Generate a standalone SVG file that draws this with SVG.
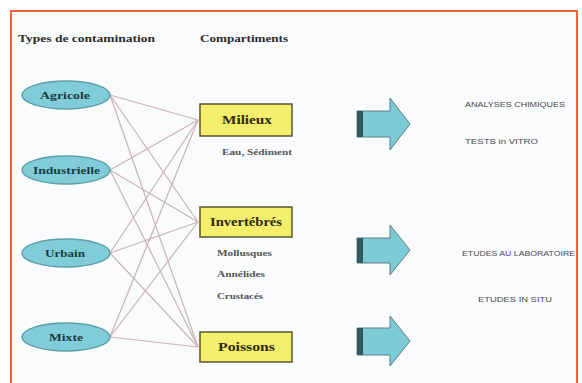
<svg xmlns="http://www.w3.org/2000/svg" width="582" height="383" viewBox="0 0 582 383">
<defs>
<style>
.hdr{font-family:"Liberation Serif",serif;font-weight:bold;font-size:11px;fill:#2a2a2a}
.ell{fill:#80cdd9;stroke:#5d9fa8;stroke-width:1.5}
.elt{font-family:"Liberation Serif",serif;font-weight:bold;font-size:10.5px;fill:#1d3b3e}
.box{fill:#f3ee6c;stroke:#5a5630;stroke-width:1.5}
.bxt{font-family:"Liberation Serif",serif;font-weight:bold;font-size:11.5px;fill:#2b2a12}
.sub{font-family:"Liberation Serif",serif;font-weight:bold;font-size:8.5px;fill:#555}
.rt{font-family:"Liberation Sans",sans-serif;font-size:6.5px;fill:#4a4a4a}
.ln{stroke:#c9b3b3;stroke-width:1.2;fill:none}
.arr{fill:#7dcbd6;stroke:#5a7f84;stroke-width:1}
.strip{fill:#2f5a5e}
</style>
</defs>
<rect x="0" y="0" width="582" height="383" fill="#ffffff"/>
<rect x="11" y="11" width="566" height="380" fill="#f9fbfd" stroke="#f0643a" stroke-width="2"/>
<text class="hdr" x="18" y="42" textLength="137" lengthAdjust="spacingAndGlyphs">Types de contamination</text>
<text class="hdr" x="200" y="42" textLength="88" lengthAdjust="spacingAndGlyphs">Compartiments</text>
<g id="connectors">
<line class="ln" x1="110" y1="95" x2="198" y2="120"/>
<line class="ln" x1="110" y1="95" x2="198" y2="222"/>
<line class="ln" x1="110" y1="95" x2="198" y2="347"/>
<line class="ln" x1="110" y1="170" x2="198" y2="120"/>
<line class="ln" x1="110" y1="170" x2="198" y2="222"/>
<line class="ln" x1="110" y1="170" x2="198" y2="347"/>
<line class="ln" x1="110" y1="253" x2="198" y2="120"/>
<line class="ln" x1="110" y1="253" x2="198" y2="222"/>
<line class="ln" x1="110" y1="253" x2="198" y2="347"/>
<line class="ln" x1="110" y1="337" x2="198" y2="120"/>
<line class="ln" x1="110" y1="337" x2="198" y2="222"/>
<line class="ln" x1="110" y1="337" x2="198" y2="347"/>
</g>
<g id="agricole"><ellipse class="ell" cx="66" cy="95" rx="44" ry="14"/><text class="elt" x="40" y="99" textLength="50" lengthAdjust="spacingAndGlyphs">Agricole</text></g>
<g id="industrielle"><ellipse class="ell" cx="66" cy="170" rx="44" ry="14"/><text class="elt" x="33" y="174" textLength="67" lengthAdjust="spacingAndGlyphs">Industrielle</text></g>
<g id="urbain"><ellipse class="ell" cx="66" cy="253" rx="44" ry="14"/><text class="elt" x="45" y="257" textLength="40" lengthAdjust="spacingAndGlyphs">Urbain</text></g>
<g id="mixte"><ellipse class="ell" cx="66" cy="337" rx="44" ry="14"/><text class="elt" x="49" y="341" textLength="34" lengthAdjust="spacingAndGlyphs">Mixte</text></g>
<g id="milieux"><rect class="box" x="200" y="104" width="92" height="32"/><text class="bxt" x="222" y="124" textLength="50" lengthAdjust="spacingAndGlyphs">Milieux</text>
<text class="sub" x="222" y="155" textLength="70" lengthAdjust="spacingAndGlyphs">Eau, Sédiment</text></g>
<g id="invertebres"><rect class="box" x="200" y="207" width="92" height="30"/><text class="bxt" x="210" y="226" textLength="72" lengthAdjust="spacingAndGlyphs">Invertébrés</text>
<text class="sub" x="217" y="256" textLength="55" lengthAdjust="spacingAndGlyphs">Mollusques</text>
<text class="sub" x="217" y="277" textLength="48" lengthAdjust="spacingAndGlyphs">Annélides</text>
<text class="sub" x="217" y="299" textLength="46" lengthAdjust="spacingAndGlyphs">Crustacés</text></g>
<g id="poissons"><rect class="box" x="200" y="332" width="92" height="30"/><text class="bxt" x="218" y="351" textLength="57" lengthAdjust="spacingAndGlyphs">Poissons</text></g>
<g id="arrow1"><polygon class="arr" points="357,111 390,111 390,98 410,124 390,150 390,137 357,137"/><rect class="strip" x="357" y="111" width="6" height="26"/></g>
<g id="arrow2"><polygon class="arr" points="357,238 390,238 390,225 410,250 390,275 390,263 357,263"/><rect class="strip" x="357" y="238" width="6" height="25"/></g>
<g id="arrow3"><polygon class="arr" points="357,328 390,328 390,316 410,341 390,366 390,355 357,355"/><rect class="strip" x="357" y="328" width="6" height="27"/></g>
<g id="analyses"><text class="rt" x="465" y="107" textLength="100" lengthAdjust="spacingAndGlyphs">ANALYSES CHIMIQUES</text></g>
<g id="tests"><text class="rt" x="465" y="144" textLength="73" lengthAdjust="spacingAndGlyphs">TESTS in VITRO</text></g>
<g id="labo"><text class="rt" x="462" y="256" textLength="113" lengthAdjust="spacingAndGlyphs">ETUDES AU LABORATOIRE</text></g>
<g id="insitu"><text class="rt" x="478" y="302" textLength="74" lengthAdjust="spacingAndGlyphs">ETUDES IN SITU</text></g>
</svg>
